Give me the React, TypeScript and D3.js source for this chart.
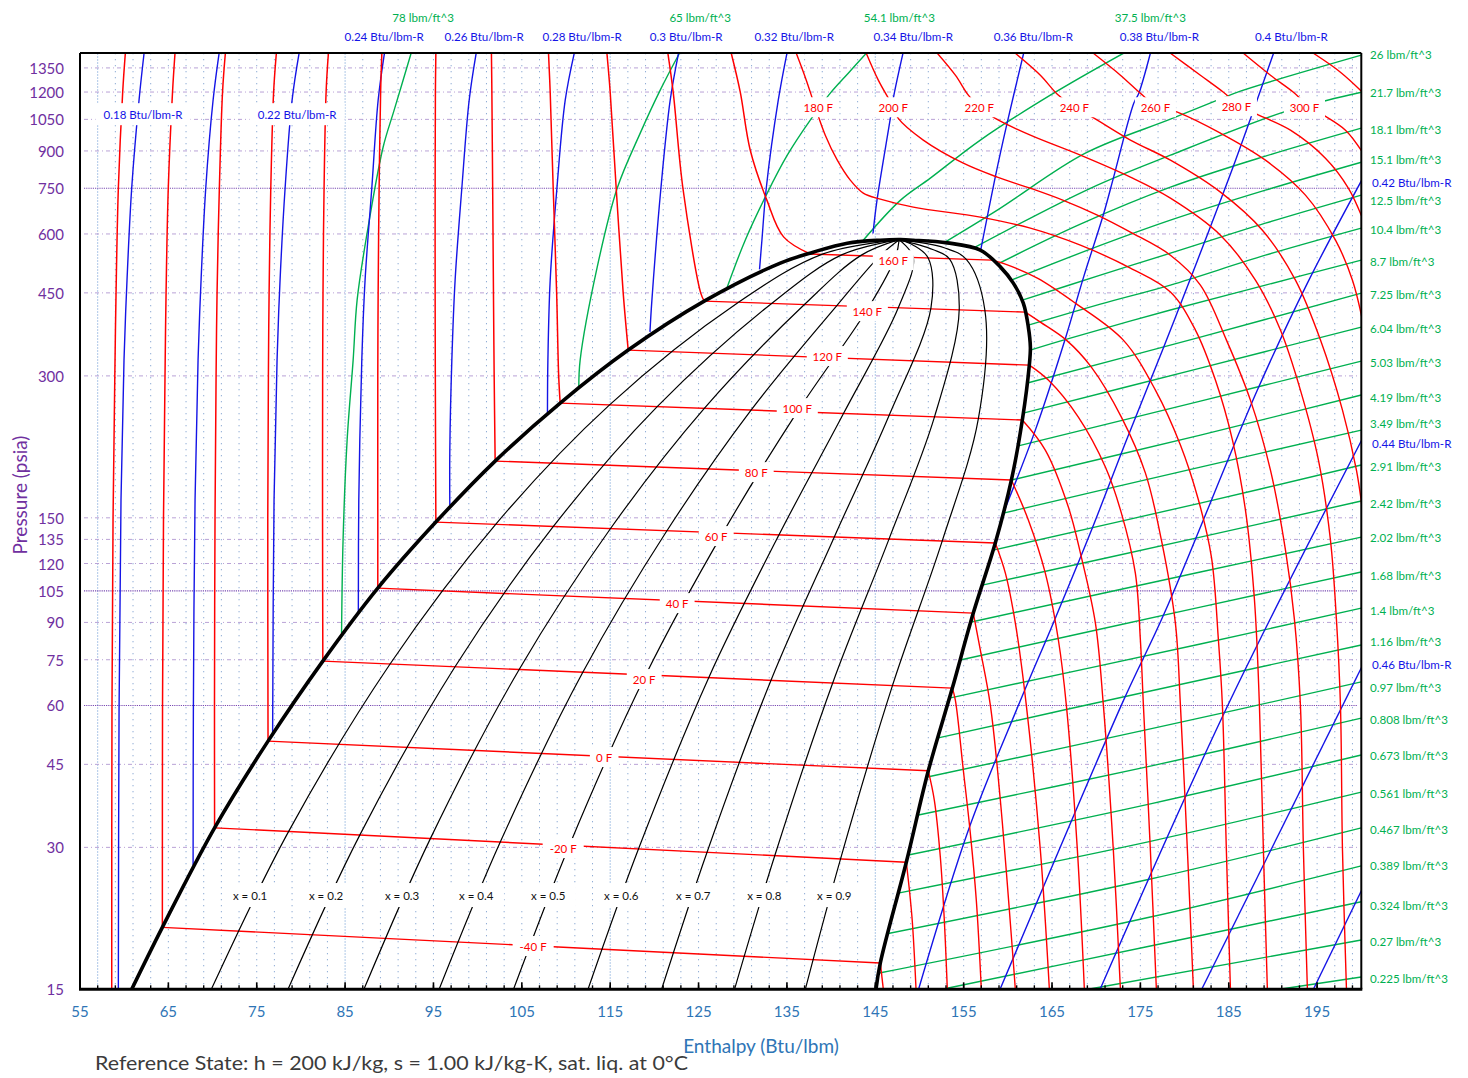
import React from 'react';
import * as d3 from 'd3';

type Pt = [number, number];

const FONT = "Lato, 'Open Sans', sans-serif";
const RED = '#ff0000';
const BLUE = '#1414e6';
const GREEN = '#00b050';
const PURPLE = '#7030a0';
const AXBLUE = '#2e75b6';

// axes
const hDomain: Pt = [55, 200];
const pDomain: Pt = [15, 1452];
const hTicks = [55, 65, 75, 85, 95, 105, 115, 125, 135, 145, 155, 165, 175, 185, 195];
const pTicks = [15, 30, 45, 60, 75, 90, 105, 120, 135, 150, 300, 450, 600, 750, 900, 1050, 1200, 1350];
const pTicksDark = [60, 105, 750];
const hGridLight = [57, 85, 115, 145];

// saturation dome [h Btu/lbm, p psia]
const satLiquid: Pt[] = [
  [60.85, 15], [64.32, 20.3], [70.23, 33.0], [76.28, 50.4], [82.48, 74.5], [88.7, 106.4], [95.27, 146.9],
  [101.98, 197.9], [109.34, 262.7], [117.04, 340.3], [125.64, 432.2], [134.25, 520.4], [137.98, 549],
  [141.83, 573.6], [145.57, 582], [147.83, 583.5],
];
const satVapor: Pt[] = [
  [147.83, 583.5], [149.3, 582], [153.15, 574.5], [156.89, 554.4], [159.15, 510.9], [160.62, 471.9],
  [161.75, 428], [162.32, 380.7], [162.55, 345.3], [162.43, 316.2], [161.64, 241.8], [160.4, 180.4],
  [158.58, 132.6], [156.09, 94.2], [153.72, 65.3], [151.0, 43.6], [148.51, 27.9], [145.57, 17.06], [145.08, 15],
];

// isotherms (deg F): subcooled liquid branch, two-phase segment, superheated branch
const tLiquid: { t: number; pts: Pt[] }[] = [
  { t: -60, pts: [[60.13, 1450], [59.83, 1199], [59.34, 750], [59.08, 450], [58.94, 300], [58.74, 150], [58.62, 60], [58.59, 15]] },
  { t: -40, pts: [[65.75, 1450], [65.47, 1199], [64.99, 750], [64.74, 450], [64.62, 300], [64.45, 150], [64.34, 60], [64.32, 20.3]] },
  { t: -20, pts: [[71.45, 1450], [71.13, 1199], [70.77, 750], [70.51, 450], [70.4, 300], [70.28, 150], [70.22, 60], [70.23, 33.0]] },
  { t: 0, pts: [[77.22, 1450], [76.91, 1199], [76.59, 750], [76.4, 450], [76.32, 300], [76.25, 150], [76.28, 50.4]] },
  { t: 20, pts: [[83.11, 1450], [82.85, 1199], [82.62, 750], [82.5, 450], [82.46, 300], [82.45, 150], [82.48, 74.5]] },
  { t: 40, pts: [[89.16, 1450], [89.02, 1199], [88.85, 750], [88.74, 450], [88.7, 300], [88.7, 150], [88.7, 106.4]] },
  { t: 60, pts: [[95.27, 1450], [95.22, 1199], [95.19, 750], [95.19, 450], [95.21, 300], [95.27, 146.9]] },
  { t: 80, pts: [[101.56, 1450], [101.61, 1199], [101.7, 750], [101.79, 450], [101.87, 300], [101.98, 197.9]] },
  { t: 100, pts: [[108.02, 1450], [108.21, 1199], [108.55, 750], [108.94, 450], [109.17, 300], [109.34, 262.7]] },
  { t: 120, pts: [[114.63, 1450], [115.0, 1199], [115.68, 750], [116.47, 450], [117.04, 340.3]] },
  { t: 140, pts: [[121.53, 1450], [122.13, 1199], [123.23, 750], [125.24, 450], [125.64, 432.2]] },
  { t: 160, pts: [[128.7, 1450], [129.72, 1199], [130.85, 903], [132.74, 707], [134.62, 591.5], [137.64, 544]] },
];
const tTwoPhase: { t: number; liq: Pt; vap: Pt }[] = [
  { t: -40, liq: [64.32, 20.3], vap: [145.57, 17.06] },
  { t: -20, liq: [70.23, 33.0], vap: [148.51, 27.9] },
  { t: 0, liq: [76.28, 50.4], vap: [151.0, 43.6] },
  { t: 20, liq: [82.48, 74.5], vap: [153.72, 65.3] },
  { t: 40, liq: [88.7, 106.4], vap: [156.09, 94.2] },
  { t: 60, liq: [95.27, 146.9], vap: [158.58, 132.6] },
  { t: 80, liq: [101.98, 197.9], vap: [160.4, 180.4] },
  { t: 100, liq: [109.34, 262.7], vap: [161.64, 241.8] },
  { t: 120, liq: [117.04, 340.3], vap: [162.43, 316.2] },
  { t: 140, liq: [125.64, 432.2], vap: [161.98, 409.7] },
  { t: 160, liq: [137.64, 544], vap: [158.2, 527.9] },
];
const tVapor: { t: number; pts: Pt[] }[] = [
  { t: -40, pts: [[145.57, 17.06], [145.91, 15]] },
  { t: -20, pts: [[148.51, 27.9], [149.15, 21.35], [149.61, 15]] },
  { t: 0, pts: [[151.0, 43.6], [151.68, 37.8], [152.36, 28.62], [152.81, 21.04], [153.15, 15]] },
  { t: 20, pts: [[153.72, 65.3], [154.06, 61.6], [154.96, 43.77], [155.75, 32.2], [156.43, 23.2], [157.0, 15]] },
  { t: 40, pts: [[156.09, 94.2], [156.89, 78.6], [158.02, 60.1], [159.15, 37.8], [160.85, 15]] },
  { t: 60, pts: [[158.58, 132.6], [159.72, 114.5], [160.85, 89.7], [162.09, 60.1], [163.68, 29.6], [164.7, 15]] },
  { t: 80, pts: [[160.4, 180.4], [162.32, 148.4], [164.24, 114.5], [165.72, 82.6], [166.62, 60.1], [167.87, 29.6], [168.66, 15]] },
  { t: 100, pts: [[161.64, 241.8], [164.24, 208.8], [166.85, 158.1], [168.32, 123.8], [169.91, 89.7], [170.81, 60.1], [171.94, 29.6], [172.74, 15]] },
  { t: 120, pts: [[162.43, 316.2], [164.58, 293.9], [167.98, 245.3], [171.04, 192.2], [172.85, 153.5], [174.43, 114.5], [175.0, 82.6], [175.34, 60.1], [176.13, 29.6], [176.81, 15]] },
  { t: 140, pts: [[161.98, 409.7], [163.68, 390.2], [166.62, 357.3], [169.45, 313.2], [172.85, 245.3], [175.57, 186.6], [177.38, 134.5], [178.96, 89.7], [179.53, 60.1], [180.32, 29.6], [181.0, 15]] },
  { t: 160, pts: [[158.2, 527.9], [159.72, 517.8], [163.34, 483.6], [167.64, 428], [173.07, 357.3], [176.7, 279.9], [179.53, 214.0], [181.57, 163.6], [183.04, 123.8], [183.83, 82.6], [184.28, 60.1], [184.73, 29.6], [185.19, 15]] },
];
// isotherms above the critical temperature, drawn as one curve each
const tSuper: { t: number; pts: Pt[] }[] = [
  { t: 180, pts: [[136.06, 1450], [137.19, 1271.6], [138.21, 1114], [139.34, 972], [140.7, 860.3], [142.17, 780.3], [143.64, 732.5], [145.57, 711.2], [149.3, 684.0], [156.89, 651.4], [162.55, 617.3], [168.21, 568.1], [173.87, 507.8], [178.4, 451.7], [181.23, 375.2], [183.49, 293.9], [185.42, 219.3], [186.89, 155.8], [187.91, 100.4], [188.47, 60.1], [188.92, 29.6], [189.37, 15]] },
  { t: 200, pts: [[143.98, 1450], [145.34, 1271.6], [147.04, 1114], [147.6, 1054.8], [150.43, 949], [154.96, 847.7], [158.81, 791.9], [162.55, 750], [166.28, 707], [170.13, 657.8], [173.87, 605.3], [178.4, 540.9], [181.79, 467.4], [184.74, 357.3], [187.45, 266.5], [189.72, 189.4], [191.42, 128.1], [192.44, 91.0], [193.11, 60.1], [193.45, 29.6], [193.9, 15]] },
  { t: 220, pts: [[152.02, 1450], [154.06, 1302.8], [155.53, 1181.8], [156.77, 1114], [158.58, 1054.8], [162.55, 972], [168.21, 881.5], [173.87, 791.9], [178.4, 714.6], [184.06, 596.5], [188.02, 478.8], [190.85, 375.2], [193.11, 279.9], [195.15, 198.9], [196.51, 134.5], [197.19, 91.0], [197.64, 60.1], [197.87, 29.6], [198.32, 15]] },
  { t: 240, pts: [[160.85, 1450], [163.68, 1302.8], [165.6, 1187.7], [167.53, 1114], [169.56, 1061.4], [173.87, 949], [178.4, 860.3], [184.06, 736], [188.81, 611], [192.55, 478.8], [195.38, 357.3], [197.87, 253.8], [199.45, 189.4], [200.13, 155.8]] },
  { t: 260, pts: [[169.68, 1450], [172.74, 1302.8], [175.11, 1187.7], [176.7, 1125.6], [179.19, 1087.8], [184.06, 981.7], [189.15, 860.3], [193.68, 725.4], [197.08, 582], [199.0, 478.8], [200.13, 393.9]] },
  { t: 280, pts: [[178.4, 1450], [181.79, 1302.8], [184.4, 1199], [185.87, 1136.7], [187.68, 1087.8], [191.98, 996.1], [195.94, 868.6], [198.55, 750], [200.13, 648.3]] },
  { t: 300, pts: [[186.66, 1450], [189.72, 1302.8], [192.32, 1199], [193.68, 1136.7], [195.38, 1082.4], [198.21, 996.1], [200.13, 894.5]] },
  { t: 320, pts: [[194.58, 1450], [197.64, 1322.1], [200.13, 1199]] },
];
const tLabels: [string, number, number][] = [
  ['-40 F', 106.28, 18.53], ['-20 F', 109.68, 29.9], ['0 F', 114.32, 46.63], ['20 F', 118.85, 68.25],
  ['40 F', 122.58, 98.9], ['60 F', 127.0, 137.2], ['80 F', 131.53, 187.5], ['100 F', 136.17, 256.3],
  ['120 F', 139.57, 330.5], ['140 F', 144.1, 411.6], ['160 F', 147.04, 527.9], ['180 F', 138.55, 1114],
  ['200 F', 147.04, 1114], ['220 F', 156.77, 1114], ['240 F', 167.53, 1114], ['260 F', 176.7, 1114],
  ['280 F', 185.87, 1119.9], ['300 F', 193.57, 1114],
];

// constant quality lines
const CRIT: Pt = [147.7, 583.5];
const quality: { q: string; pts: Pt[] }[] = [
  { q: '0.1', pts: [[69.86, 15], [78.6, 32.4], [90.09, 73.47], [102.04, 145.3], [114.93, 260.4], [129.52, 429.8], [139.09, 544.4], CRIT] },
  { q: '0.2', pts: [[78.54, 15], [86.66, 31.85], [97.44, 72.48], [108.57, 143.8], [120.32, 258.1], [133.27, 427.4], [141.25, 542.3], CRIT] },
  { q: '0.3', pts: [[87.13, 15], [94.65, 31.31], [104.7, 71.53], [115.02, 142.2], [125.65, 256.0], [136.98, 425.1], [143.38, 540.4], CRIT] },
  { q: '0.4', pts: [[95.64, 15], [102.56, 30.79], [111.9, 70.55], [121.42, 140.8], [130.94, 253.8], [140.65, 422.9], [145.5, 538.6], CRIT] },
  { q: '0.5', pts: [[104.06, 15], [110.38, 30.29], [119.02, 69.63], [127.75, 139.4], [136.17, 251.7], [144.29, 420.6], [147.3, 536.8], CRIT] },
  { q: '0.6', pts: [[112.49, 15], [118.21, 29.79], [126.15, 68.72], [134.09, 137.9], [141.4, 249.6], [147.6, 418.3], [149.3, 535.0], CRIT] },
  { q: '0.7', pts: [[120.82, 15], [125.96, 29.3], [133.2, 67.86], [140.35, 136.5], [146.57, 247.6], [151.3, 418.1], [151.0, 533.1], [149.3, 568.1], CRIT] },
  { q: '0.8', pts: [[129.07, 15], [133.63, 28.83], [140.18, 66.97], [146.55, 135.2], [151.7, 245.6], [154.5, 416.0], [153.4, 531.3], [151.5, 556], CRIT] },
  { q: '0.9', pts: [[137.08, 15], [141.07, 28.37], [146.95, 66.16], [152.57, 133.9], [156.67, 243.7], [157.4, 413.8], [155.3, 529.8], [152.8, 561], CRIT] },
];
const qLabelP = 23.77;
const qLabelH = [74.25, 82.85, 91.45, 99.83, 107.98, 116.25, 124.4, 132.44, 140.36];

// isentropes (Btu/lbm-R)
const entropy: { s: string; pts: Pt[] }[] = [
  { s: '0.18', pts: [[62.25, 1450], [61.68, 1153], [60.85, 750], [60.32, 478.8], [59.98, 324], [59.64, 163.6], [59.42, 58.7], [59.34, 15]] },
  { s: '0.2', pts: [[70.74, 1450], [70.06, 1153], [69.23, 750], [68.7, 478.8], [68.36, 324], [68.02, 163.6], [67.83, 58.7], [67.8, 27.52]] },
  { s: '0.22', pts: [[79.79, 1450], [79.0, 1153], [78.21, 750], [77.64, 478.8], [77.3, 324], [76.96, 163.6], [76.8, 52.4]] },
  { s: '0.24', pts: [[89.45, 1450], [88.74, 1153], [88.02, 750], [87.26, 478.8], [86.89, 324], [86.55, 163.6], [86.5, 94.7]] },
  { s: '0.26', pts: [[99.83, 1450], [99.04, 1153], [98.21, 750], [97.45, 478.8], [97.08, 324], [96.85, 208.8], [96.85, 159.6]] },
  { s: '0.28', pts: [[110.93, 1450], [109.91, 1153], [108.97, 750], [108.21, 478.8], [107.95, 324], [107.9, 250.1]] },
  { s: '0.3', pts: [[122.73, 1450], [121.79, 1153], [120.74, 750], [119.72, 434.3], [119.5, 372.0]] },
  { s: '0.32', pts: [[135.0, 1450], [134.02, 1153], [132.66, 750], [132.17, 582], [131.9, 504.6]] },
  { s: '0.34', pts: [[148.13, 1450], [147.07, 1172.1], [146.7, 1054.8], [145.19, 707], [144.74, 601.5]] },
  { s: '0.36', pts: [[161.79, 1450], [159.91, 1029.5], [158.58, 792.9], [156.89, 549.8]] },
  { s: '0.38', pts: [[176.13, 1450], [174.81, 1191.8], [174.24, 1135], [171.98, 792.9], [170.85, 663.2], [168.58, 486.6], [166.51, 360.2], [163.11, 230.2], [159.49, 153.5]] },
  { s: '0.4', pts: [[190.07, 1450], [185.77, 860], [181.47, 527.9], [177.51, 340.3], [173.43, 219.3], [169.47, 141.3], [165.28, 91.0], [161.21, 60.1], [155.66, 33.13], [149.9, 15]] },
  { s: '0.42', pts: [[200.05, 780.3], [193.9, 471.9], [188.24, 279.9], [177.72, 94.2], [172.85, 60.1], [159.12, 15]] },
  { s: '0.44', pts: [[200.05, 219.3], [184.74, 59.2], [170.44, 15]] },
  { s: '0.46', pts: [[200.05, 72.4], [181.94, 15]] },
  { s: '0.48', pts: [[200.05, 24.36], [194.58, 15]] },
];
const sTopLabels: [string, number][] = [
  ['0.24', 89.42], ['0.26', 100.74], ['0.28', 111.83], ['0.3', 123.6], ['0.32', 135.83],
  ['0.34', 149.3], ['0.36', 162.89], ['0.38', 177.15], ['0.4', 192.09],
];
const sInnerLabels: [string, number, number][] = [['0.18', 62.13, 1077], ['0.22', 79.57, 1077]];
const sRightLabels: [string, number][] = [['0.42', 772.7], ['0.44', 216.0], ['0.46', 73.4]];

// isochores (lbm/ft^3)
const densLiquid: { d: string; pts: Pt[] }[] = [
  { d: '78', pts: [[92.47, 1450], [90.55, 1098.3], [89.3, 916.5], [87.49, 602.4], [86.36, 434.3], [85.91, 324], [85.23, 219.3], [84.77, 134.5], [84.6, 85.4]] },
  { d: '65', pts: [[122.84, 1450], [120.66, 1211], [118.4, 981.7], [115.79, 750], [113.53, 510.2], [111.6, 324], [111.45, 282.6]] },
  { d: '54.1', pts: [[143.98, 1450], [141.94, 1315.6], [139.91, 1193.6], [137.64, 1046], [135.04, 881.5], [132.77, 732.5], [130.28, 582], [128.2, 460.5]] },
  { d: '37.5', pts: [[143.64, 582], [147.83, 707], [151.23, 788], [156.89, 949], [164.81, 1181.8], [173.07, 1450]] },
];
const dTopLabels: [string, number][] = [['78', 93.83], ['65', 125.19], ['54.1', 147.72], ['37.5', 176.13]];
const densVapor: { d: string; pts: Pt[] }[] = [
  { d: '26', pts: [[152.7, 573.6], [158.81, 674], [168.77, 890.1], [178.4, 1051], [183.72, 1153], [186.32, 1205], [200.0, 1436.7]] },
  { d: '21.7', pts: [[156.09, 560], [169.34, 750], [178.4, 881.5], [191.19, 1087.8], [196.17, 1153], [200.0, 1199]] },
  { d: '18.1', pts: [[158.81, 517.8], [168.21, 629.4], [178.4, 754], [189.15, 877.4], [200.0, 1006]] },
  { d: '15.1', pts: [[160.4, 478.8], [169.34, 557.1], [178.4, 641.8], [189.15, 743.1], [200.0, 851.8]] },
  { d: '12.5', pts: [[161.64, 434.3], [170.47, 490.7], [178.4, 546.2], [189.15, 632.4], [200.0, 725.4]] },
  { d: '10.4', pts: [[162.32, 384.5], [170.47, 425.9], [178.4, 467.4], [189.15, 540.9], [200.0, 617.3]] },
  { d: '8.7', pts: [[162.55, 340.3], [166.28, 357.3], [178.4, 413.8], [189.15, 467.4], [200.0, 527.9]] },
  { d: '7.25', pts: [[162.21, 289.7], [181.79, 362.5], [200.0, 449.5]] },
  { d: '6.04', pts: [[161.75, 250.1], [181.79, 311.6], [200.0, 380.7]] },
  { d: '5.03', pts: [[161.07, 212.9], [181.79, 265.2], [200.0, 322.5]] },
  { d: '4.19', pts: [[160.4, 180.4], [181.79, 224.7], [200.0, 273.2]] },
  { d: '3.49', pts: [[159.49, 153.5], [181.79, 192.2], [200.0, 230.2]] },
  { d: '2.91', pts: [[158.36, 128.1], [181.79, 161.2], [200.0, 194.1]] },
  { d: '2.42', pts: [[157.11, 108.0], [181.79, 136.5], [200.0, 162.8]] },
  { d: '2.02', pts: [[155.87, 90.2], [181.79, 115.1], [200.0, 136.5]] },
  { d: '1.68', pts: [[154.62, 74.9], [181.79, 97.0], [200.0, 115.1]] },
  { d: '1.4', pts: [[153.38, 62.2], [181.79, 81.0], [200.0, 96.5]] },
  { d: '1.16', pts: [[152.13, 51.2], [176.13, 64.4], [200.0, 80.6]] },
  { d: '0.97', pts: [[150.89, 42.3], [176.13, 53.5], [200.0, 67.3]] },
  { d: '0.808', pts: [[149.75, 35.1], [176.13, 44.6], [200.0, 56.4]] },
  { d: '0.673', pts: [[148.74, 28.9], [176.13, 37.1], [200.0, 47.1]] },
  { d: '0.561', pts: [[147.6, 24.0], [176.13, 30.9], [200.0, 39.3]] },
  { d: '0.467', pts: [[146.47, 19.7], [176.13, 25.7], [200.0, 33.0]] },
  { d: '0.389', pts: [[145.45, 16.24], [176.13, 21.35], [200.0, 27.4]] },
  { d: '0.324', pts: [[152.58, 15], [176.13, 18.53], [200.0, 23.0]] },
  { d: '0.27', pts: [[169.11, 15], [200.0, 19.08]] },
  { d: '0.225', pts: [[190.75, 15], [200.0, 15.93]] },
];
// right-hand label pressures for the isochores (same order as densVapor)
const dRightLabelP = [
  1443.6, 1199, 1001, 864.5, 707, 614.3, 525.3, 447.2, 378.9, 320.8, 270.5, 238.2, 193.1, 161.2,
  136.5, 112.9, 95.6, 81.8, 65.6, 55.9, 46.9, 39.1, 32.8, 27.4, 22.6, 18.9, 15.85,
];

const estW = (s: string, size: number) => s.length * size * 0.54;

function Boxed({ x, y, text, size, color, padX = 5, h = 20 }: any) {
  const w = estW(text, size) + padX * 2;
  return (
    <g>
      <rect x={x - w / 2} y={y - h / 2} width={w} height={h} fill="#fff" />
      <text x={x} y={y} fontSize={size} fill={color} textAnchor="middle" dominantBaseline="central">{text}</text>
    </g>
  );
}

export default function App() {
  const left = 80, right = 1361.3, top = 53, bottom = 989.3;
  const x = d3.scaleLinear().domain(hDomain).range([left, right]);
  const y = d3.scaleLog().domain(pDomain).range([bottom, top]);
  const smooth = d3.line<Pt>().x(d => x(d[0])).y(d => y(d[1])).curve(d3.curveCatmullRom.alpha(0.5));
  const straight = d3.line<Pt>().x(d => x(d[0])).y(d => y(d[1]));
  const hGrid = d3.range(57, 200, 2);
  const dome = [...satLiquid, ...satVapor.slice(1)];

  return (
    <svg width={1468} height={1078} style={{ position: 'absolute', left: 0, top: 0, background: '#fff' }} fontFamily={FONT}>
      <defs>
        <clipPath id="plot"><rect x={left} y={top} width={right - left} height={bottom - top} /></clipPath>
      </defs>
      <rect x={0} y={0} width={1468} height={1078} fill="#fff" />

      {/* grid */}
      <g>
        {hGrid.map(h => (
          <line key={'v' + h} x1={x(h)} x2={x(h)} y1={top} y2={bottom}
            stroke={hGridLight.includes(h) ? '#a6c3e6' : '#7398cc'}
            strokeWidth={1} strokeDasharray={hGridLight.includes(h) ? '2,1' : '1.3,4.7'}
            opacity={hGridLight.includes(h) ? 0.9 : 0.8} />
        ))}
        {pTicks.filter(p => p > 15).map(p => (
          <line key={'h' + p} x1={left + 4} x2={right - 4} y1={y(p)} y2={y(p)}
            stroke={pTicksDark.includes(p) ? '#7a4cb3' : '#b9a2d6'}
            strokeWidth={pTicksDark.includes(p) ? 1.1 : 1}
            strokeDasharray={pTicksDark.includes(p) ? '1.2,1' : '4,3,1,3'} />
        ))}
      </g>

      <g clipPath="url(#plot)" fill="none" strokeLinejoin="round">
        {/* isochores */}
        {densLiquid.map(c => <path key={'dl' + c.d} d={smooth(c.pts)!} stroke={GREEN} strokeWidth={1.4} />)}
        {densVapor.map(c => <path key={'dv' + c.d} d={smooth(c.pts)!} stroke={GREEN} strokeWidth={1.4} />)}
        {/* isentropes */}
        {entropy.map(c => <path key={'s' + c.s} d={smooth(c.pts)!} stroke={BLUE} strokeWidth={1.4} />)}
        {/* isotherms */}
        {tLiquid.map(c => <path key={'tl' + c.t} d={smooth(c.pts)!} stroke={RED} strokeWidth={1.5} />)}
        {tTwoPhase.map(c => <path key={'tt' + c.t} d={straight([c.liq, c.vap])!} stroke={RED} strokeWidth={1.4} />)}
        {tVapor.map(c => <path key={'tv' + c.t} d={smooth(c.pts)!} stroke={RED} strokeWidth={1.4} />)}
        {tSuper.map(c => <path key={'ts' + c.t} d={smooth(c.pts)!} stroke={RED} strokeWidth={1.4} />)}
        {/* quality */}
        {quality.map(c => <path key={'q' + c.q} d={smooth(c.pts)!} stroke="#000" strokeWidth={1.2} />)}
        {/* dome */}
        <path d={smooth(dome)!} stroke="#000" strokeWidth={3.6} />
      </g>

      {/* in-plot labels */}
      <g>
        {tLabels.map(([t, h, p]) => <Boxed key={t} x={x(h)} y={y(p)} text={t} size={11.5} color={RED} />)}
        {quality.map((c, i) => <Boxed key={'ql' + c.q} x={x(qLabelH[i])} y={y(qLabelP)} text={`x = ${c.q}`} size={11.5} color="#111" padX={6} h={24} />)}
        {sInnerLabels.map(([s, h, p]) => <Boxed key={'si' + s} x={x(h)} y={y(p)} text={`${s} Btu/lbm-R`} size={11.5} color={BLUE} padX={4} h={22} />)}
      </g>

      {/* labels outside */}
      <g fontSize={11.6}>
        {sTopLabels.map(([s, h]) => <text key={'st' + s} x={x(h)} y={36} fill={BLUE} textAnchor="middle" dominantBaseline="central">{`${s} Btu/lbm-R`}</text>)}
        {dTopLabels.map(([d, h]) => <text key={'dt' + d} x={x(h)} y={17} fill={GREEN} textAnchor="middle" dominantBaseline="central">{`${d} lbm/ft^3`}</text>)}
        {densVapor.map((c, i) => (
          <text key={'dr' + c.d} x={1370} y={y(dRightLabelP[i])} fill={GREEN} dominantBaseline="central">{`${c.d} lbm/ft^3`}</text>
        ))}
        {sRightLabels.map(([s, p]) => <text key={'sr' + s} x={1372} y={y(p)} fill={BLUE} dominantBaseline="central">{`${s} Btu/lbm-R`}</text>)}
      </g>

      {/* frame and ticks */}
      <g stroke="#000">
        <line x1={left} x2={right} y1={top} y2={top} strokeWidth={2} />
        <line x1={right} x2={right} y1={top} y2={bottom} strokeWidth={2} />
        <line x1={left} x2={left} y1={top} y2={bottom} strokeWidth={2} />
        {hGrid.map(h => <line key={'tk' + h} x1={x(h)} x2={x(h)} y1={bottom} y2={bottom - 4} strokeWidth={1.4} />)}
        {hTicks.map(h => <line key={'TK' + h} x1={x(h)} x2={x(h)} y1={bottom} y2={bottom - 7} strokeWidth={1.6} />)}
        <line x1={left - 1} x2={right + 1} y1={bottom} y2={bottom} strokeWidth={3} />
      </g>

      <g fontSize={15}>
        {pTicks.map(p => <text key={'yl' + p} x={64} y={y(p)} fill={PURPLE} textAnchor="end" dominantBaseline="central">{p}</text>)}
        {hTicks.map(h => <text key={'xl' + h} x={x(h)} y={1011} fill={AXBLUE} textAnchor="middle" dominantBaseline="central">{h}</text>)}
      </g>
      <text x={761} y={1045} fontSize={19} fill={AXBLUE} textAnchor="middle" dominantBaseline="central">Enthalpy (Btu/lbm)</text>
      <text transform="translate(19,495) rotate(-90)" fontSize={19} fill={PURPLE} textAnchor="middle" dominantBaseline="central">Pressure (psia)</text>
      <text x={95} y={1070} fontSize={20} fill="#3b3b3b" textLength={593} lengthAdjust="spacingAndGlyphs">Reference State: h = 200 kJ/kg, s = 1.00 kJ/kg-K, sat. liq. at 0°C</text>
    </svg>
  );
}
